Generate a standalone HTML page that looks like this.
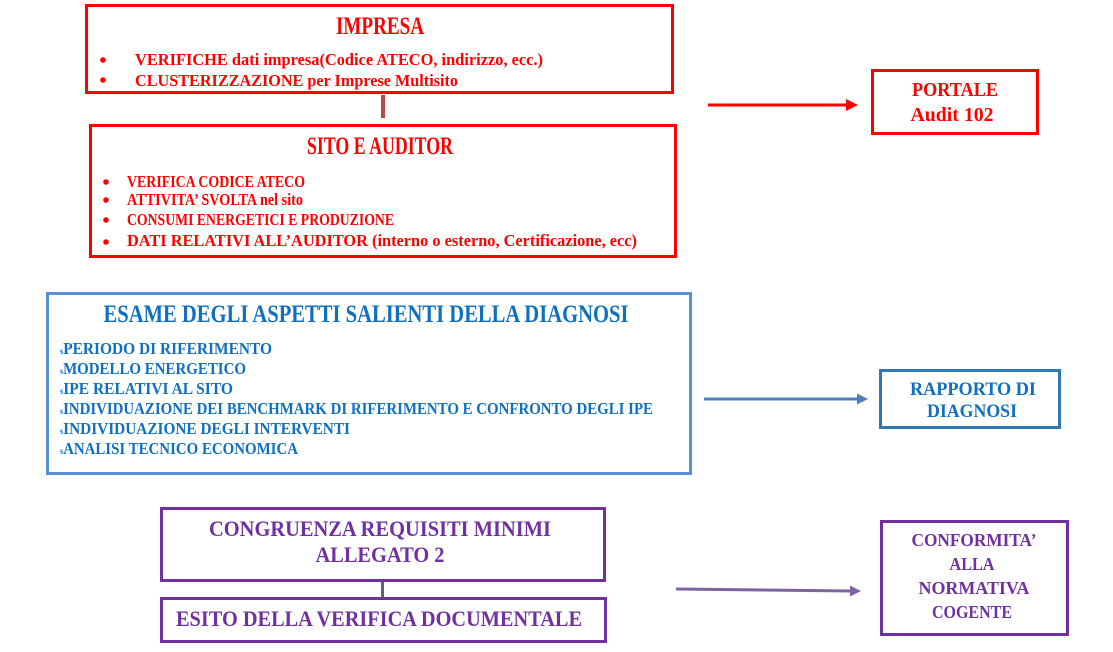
<!DOCTYPE html>
<html><head><meta charset="utf-8"><style>
html,body{margin:0;padding:0;background:#fff;}
svg{display:block;}
text{font-family:"Liberation Serif",serif;font-weight:bold;}
</style></head><body>
<svg width="1113" height="652" viewBox="0 0 1113 652" xmlns="http://www.w3.org/2000/svg">
<rect x="86.5" y="5.5" width="586" height="87" fill="#fff" stroke="#ff0000" stroke-width="3"/>
<g fill="#ff0000">
<text x="380" y="34" font-size="25" text-anchor="middle" textLength="88" lengthAdjust="spacingAndGlyphs">IMPRESA</text>
<circle cx="103" cy="60" r="2.8"/><circle cx="103" cy="80" r="2.8"/>
<text x="135" y="65" font-size="17" textLength="408" lengthAdjust="spacingAndGlyphs">VERIFICHE dati impresa(Codice ATECO, indirizzo, ecc.)</text>
<text x="135" y="86" font-size="17" textLength="323" lengthAdjust="spacingAndGlyphs">CLUSTERIZZAZIONE per Imprese Multisito</text>
</g>
<rect x="381" y="95" width="4" height="23" fill="#b24a4a"/>
<rect x="90.5" y="125.5" width="585" height="131" fill="#fff" stroke="#ff0000" stroke-width="3"/>
<g fill="#ff0000">
<text x="380" y="154" font-size="25" text-anchor="middle" textLength="146" lengthAdjust="spacingAndGlyphs">SITO E AUDITOR</text>
<circle cx="106" cy="182" r="2.8"/><circle cx="106" cy="200" r="2.8"/><circle cx="106" cy="220" r="2.8"/><circle cx="106" cy="242" r="2.8"/>
<text x="127" y="187" font-size="17" textLength="178" lengthAdjust="spacingAndGlyphs">VERIFICA CODICE ATECO</text>
<text x="127" y="205" font-size="17" textLength="176" lengthAdjust="spacingAndGlyphs">ATTIVITA’ SVOLTA nel sito</text>
<text x="127" y="225" font-size="17" textLength="267" lengthAdjust="spacingAndGlyphs">CONSUMI ENERGETICI E PRODUZIONE</text>
<text x="127" y="246" font-size="17" textLength="510" lengthAdjust="spacingAndGlyphs">DATI RELATIVI ALL’AUDITOR (interno o esterno, Certificazione, ecc)</text>
</g>
<line x1="708" y1="105" x2="848" y2="105" stroke="#ff0000" stroke-width="3"/>
<polygon points="846,99 858,105 846,111" fill="#ff0000"/>
<rect x="872.5" y="70.5" width="165" height="63" fill="#fff" stroke="#ff0000" stroke-width="3"/>
<g fill="#ff0000">
<text x="955" y="96" text-anchor="middle" font-size="20" textLength="86" lengthAdjust="spacingAndGlyphs">PORTALE</text>
<text x="952" y="121" text-anchor="middle" font-size="20" textLength="83" lengthAdjust="spacingAndGlyphs">Audit 102</text>
</g>
<rect x="47.5" y="293.5" width="643" height="180" fill="#fff" stroke="#5b8fd6" stroke-width="3"/>
<g fill="#0f6fc0">
<text x="366" y="322" font-size="25" text-anchor="middle" textLength="525" lengthAdjust="spacingAndGlyphs">ESAME DEGLI ASPETTI SALIENTI DELLA DIAGNOSI</text>
<text x="60" y="354" font-size="17" textLength="212" lengthAdjust="spacingAndGlyphs"><tspan font-size="9">s</tspan>PERIODO DI RIFERIMENTO</text>
<text x="60" y="374" font-size="17" textLength="186" lengthAdjust="spacingAndGlyphs"><tspan font-size="9">s</tspan>MODELLO ENERGETICO</text>
<text x="60" y="394" font-size="17" textLength="173" lengthAdjust="spacingAndGlyphs"><tspan font-size="9">s</tspan>IPE RELATIVI AL SITO</text>
<text x="60" y="414" font-size="17" textLength="593" lengthAdjust="spacingAndGlyphs"><tspan font-size="9">s</tspan>INDIVIDUAZIONE DEI BENCHMARK DI RIFERIMENTO E CONFRONTO DEGLI IPE</text>
<text x="60" y="434" font-size="17" textLength="290" lengthAdjust="spacingAndGlyphs"><tspan font-size="9">s</tspan>INDIVIDUAZIONE DEGLI INTERVENTI</text>
<text x="60" y="454" font-size="17" textLength="238" lengthAdjust="spacingAndGlyphs"><tspan font-size="9">s</tspan>ANALISI TECNICO ECONOMICA</text>
</g>
<line x1="704" y1="399" x2="860" y2="399" stroke="#4f7fc0" stroke-width="3"/>
<polygon points="857,393.5 868,399 857,404.5" fill="#4f7fc0"/>
<rect x="880.5" y="370.5" width="179" height="57" fill="#fff" stroke="#2e78b4" stroke-width="3"/>
<g fill="#0f6fc0">
<text x="973" y="395" text-anchor="middle" font-size="19" textLength="126" lengthAdjust="spacingAndGlyphs">RAPPORTO DI</text>
<text x="972" y="417" text-anchor="middle" font-size="19" textLength="90" lengthAdjust="spacingAndGlyphs">DIAGNOSI</text>
</g>
<rect x="161.5" y="508.5" width="443" height="72" fill="#fff" stroke="#7030a0" stroke-width="3"/>
<g fill="#7030a0">
<text x="380" y="536" font-size="22" text-anchor="middle" textLength="342" lengthAdjust="spacingAndGlyphs">CONGRUENZA REQUISITI MINIMI</text>
<text x="380" y="562" font-size="22" text-anchor="middle" textLength="129" lengthAdjust="spacingAndGlyphs">ALLEGATO 2</text>
</g>
<rect x="381" y="582" width="3" height="15" fill="#6a5a7a"/>
<rect x="161.5" y="598.5" width="444" height="43" fill="#fff" stroke="#7030a0" stroke-width="3"/>
<text x="176" y="626" font-size="22" fill="#7030a0" textLength="406" lengthAdjust="spacingAndGlyphs">ESITO DELLA VERIFICA DOCUMENTALE</text>
<line x1="676" y1="589" x2="852" y2="591" stroke="#8064a2" stroke-width="3"/>
<polygon points="850,585.5 861,591 850,596.5" fill="#8064a2"/>
<rect x="881.5" y="521.5" width="186" height="113" fill="#fff" stroke="#7030a0" stroke-width="3"/>
<g fill="#7030a0">
<text x="974" y="546" text-anchor="middle" font-size="18" textLength="125" lengthAdjust="spacingAndGlyphs">CONFORMITA’</text>
<text x="972" y="570" text-anchor="middle" font-size="18" textLength="45" lengthAdjust="spacingAndGlyphs">ALLA</text>
<text x="974" y="594" text-anchor="middle" font-size="18" textLength="111" lengthAdjust="spacingAndGlyphs">NORMATIVA</text>
<text x="972" y="618" text-anchor="middle" font-size="18" textLength="80" lengthAdjust="spacingAndGlyphs">COGENTE</text>
</g>
</svg>
</body></html>
